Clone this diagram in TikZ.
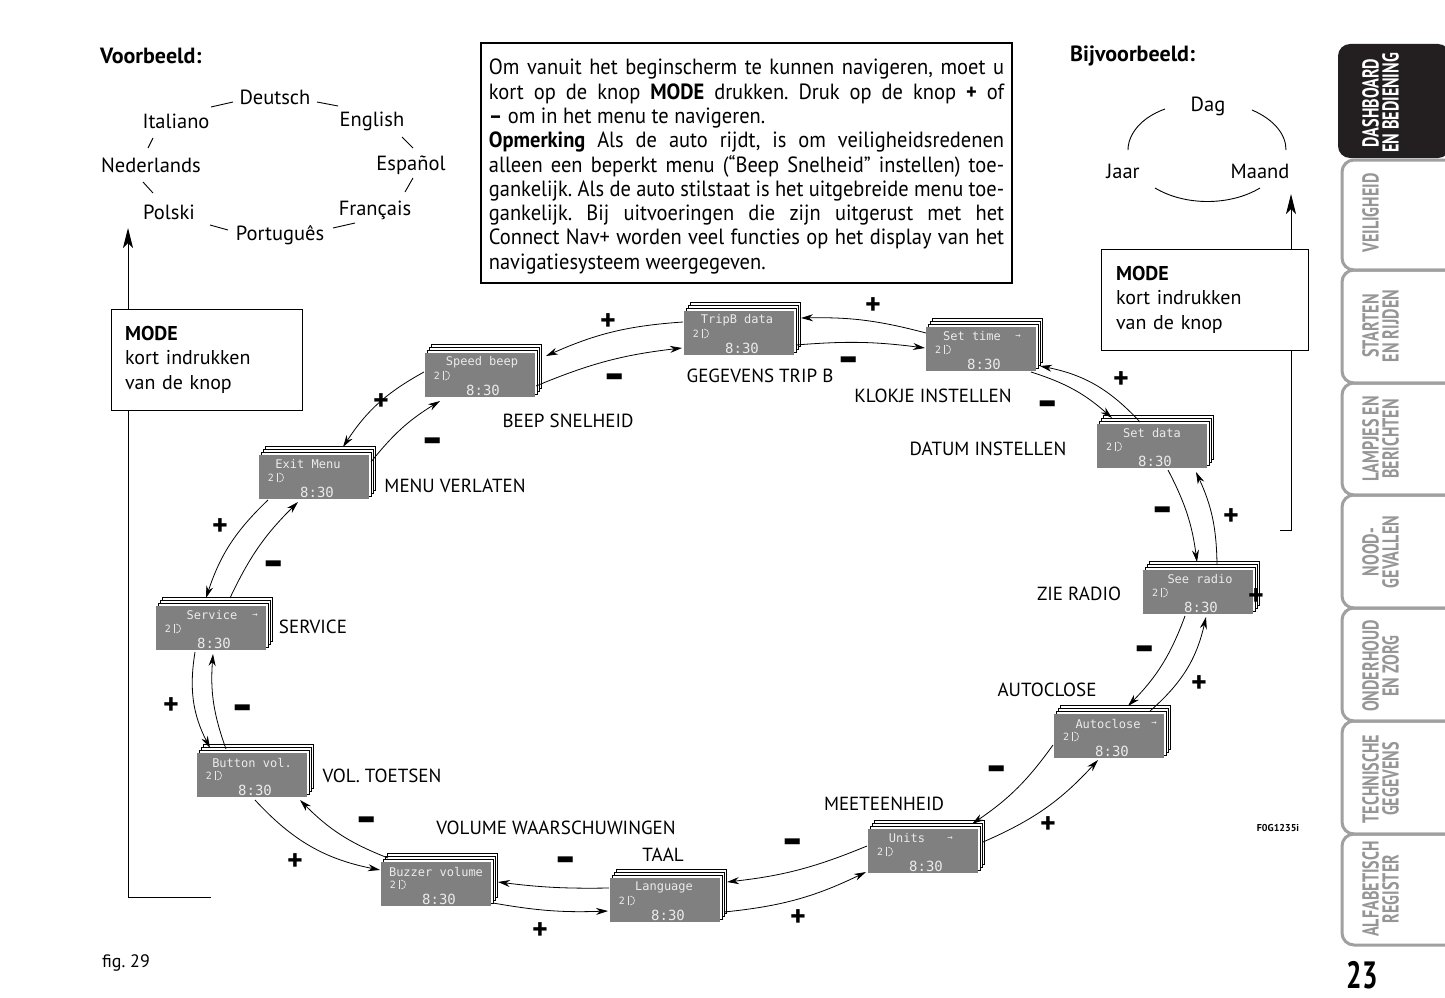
\documentclass[tikz,border=0pt]{standalone}
\usepackage{fontspec}
\usepackage{graphicx}
\setmainfont{PT Sans}
\setmonofont{DejaVu Sans Mono}
\usetikzlibrary{arrows.meta,calc}
\definecolor{tabgray}{RGB}{160,160,160}
\definecolor{tabtext}{RGB}{150,150,150}
\definecolor{lcd}{RGB}{128,128,128}
\definecolor{lcdtext}{RGB}{235,235,235}
\definecolor{tabblack}{RGB}{35,31,32}
\frenchspacing
\newcommand\jl[1]{\makebox[\linewidth][s]{#1}\\}
\newcommand\dispbox[5]{%
  \foreach \k in {3,2,1}{\draw[sheet] ({#2-55+2*\k},{#3-22-3*\k}) rectangle ({#2+55+2*\k},{#3+22-3*\k});}
  \node[display] (#1) at (#2,#3) {};
  \node[dtext] at ({#2+#5},{#3-12.5}) {#4};
  \node[dtext, font=\ttfamily\fontsize{10}{10}\selectfont] at ({#2-43},{#3+1}) {2};
  \draw[lcdtext, line width=0.6pt] ({#2-37},{#3-4}) -- ({#2-37},{#3+5});
  \draw[lcdtext, line width=0.6pt] ({#2-35},{#3-4}) .. controls ({#2-29},{#3-4}) and ({#2-29},{#3+5}) .. ({#2-35},{#3+5});
  \node[dtext, font=\ttfamily\fontsize{14}{14}\selectfont] at ({#2+3},{#3+15}) {8:30};
}
\newcommand\dispboxA[6]{%
  \dispbox{#1}{#2}{#3}{#4}{#5}
  \node[dtext, font=\ttfamily\fontsize{9}{9}\selectfont] at ({#2+#6},{#3-12.5}) {→};
}
\begin{document}
\begin{tikzpicture}[x=1pt,y=-1pt,
  lbl/.style={font=\fontsize{19}{22}\selectfont, inner sep=0pt},
  lang/.style={font=\fontsize{20.5}{24}\selectfont, inner sep=0pt},
  pmsign/.style={font=\fontsize{30}{30}\selectfont\bfseries, inner sep=0pt},
  display/.style={rectangle, fill=lcd, minimum width=110pt, minimum height=44pt, inner sep=0pt},
  sheet/.style={fill=white, draw=black, line width=0.6pt},
  dtext/.style={text=lcdtext, font=\ttfamily\fontsize{12}{12}\selectfont, inner sep=0pt},
  conn/.style={-{Stealth[length=12pt,width=7pt]}, line width=0.8pt},
  outarc/.style={conn, bend right=#1},
  inarc/.style={conn, bend left=#1},
  modebox/.style={draw, line width=1pt, fill=white, align=left, inner xsep=14pt, font=\fontsize{20}{24.5}\selectfont},
  bigarrow/.style={line width=1pt, -{Stealth[length=20pt,width=10pt,inset=5pt]}},
  tabline/.style={draw=tabgray, line width=3pt, rounded corners=12pt},
  tabtxt/.style={rotate=90, anchor=north, inner sep=0pt, align=center, text=tabtext, font=\fontsize{23}{20}\selectfont\bfseries},
]
\fill[white] (0,0) rectangle (1445,998);
\useasboundingbox (0,0) rectangle (1445,998);

% ---------- side tabs ----------
\foreach \t/\b in {160/270,270/383,383/495,495/608,608/721,721/834,834/945}{
  \draw[tabline] (1450,\t) -- (1342,\t) -- (1342,\b) -- (1450,\b);
}
\fill[tabblack, rounded corners=12pt] (1450,44) -- (1338,44) -- (1338,158) -- (1450,158) -- cycle;
\node[tabtxt, text=white] (tab1) at (1362,103) {\scalebox{0.7}[1]{DASHBOARD}\\\scalebox{0.7}[1]{EN BEDIENING}};
\node[tabtxt] (tab2) at (1362,213) {\scalebox{0.7}[1]{VEILIGHEID}};
\node[tabtxt] (tab3) at (1362,326) {\scalebox{0.7}[1]{STARTEN}\\\scalebox{0.7}[1]{EN RIJDEN}};
\node[tabtxt] (tab4) at (1362,439) {\scalebox{0.7}[1]{LAMPJES EN}\\\scalebox{0.7}[1]{BERICHTEN}};
\node[tabtxt] (tab5) at (1362,552) {\scalebox{0.7}[1]{NOOD-}\\\scalebox{0.7}[1]{GEVALLEN}};
\node[tabtxt] (tab6) at (1362,666) {\scalebox{0.7}[1]{ONDERHOUD}\\\scalebox{0.7}[1]{EN ZORG}};
\node[tabtxt] (tab7) at (1362,779) {\scalebox{0.7}[1]{TECHNISCHE}\\\scalebox{0.7}[1]{GEGEVENS}};
\node[tabtxt] (tab8) at (1362,889) {\scalebox{0.7}[1]{ALFABETISCH}\\\scalebox{0.7}[1]{REGISTER}};
\node[inner sep=0pt, font=\fontsize{38}{38}\selectfont\bfseries] (pagenum) at (1362,975) {\scalebox{0.72}[1]{23}};

% ---------- captions ----------
\node[anchor=west, inner sep=0pt, font=\fontsize{22}{26}\selectfont\bfseries] (vb) at (100,56) {Voorbeeld:};
\node[anchor=west, inner sep=0pt, font=\fontsize{22}{26}\selectfont\bfseries] (bvb) at (1070,56) {Bijvoorbeeld:};
\node[anchor=west, inner sep=0pt, font=\fontsize{18}{22}\selectfont] (fig) at (102,963) {fig. 29};
\node[inner sep=0pt, font=\fontsize{10}{12}\selectfont\bfseries] (code) at (1278,828) {F0G1235i};

% ---------- info box ----------
\node[draw, line width=1.2pt, minimum width=531pt, minimum height=240pt, inner sep=0pt] (info) at (746.5,163) {};
\node[inner sep=0pt, anchor=north] (infotext) at (746.5,59)
{\scalebox{0.93}[1]{\parbox{554pt}{\fontsize{22}{24.3}\selectfont\frenchspacing
\jl{Om vanuit het beginscherm te kunnen navigeren, moet u}
\jl{kort op de knop \textbf{MODE} drukken. Druk op de knop \textbf{+} of}
\textbf{–} om in het menu te navigeren.\\
\jl{\textbf{Opmerking} Als de auto rijdt, is om veiligheidsredenen}
\jl{alleen een beperkt menu (“Beep Snelheid” instellen) toe-}
\jl{gankelijk. Als de auto stilstaat is het uitgebreide menu toe-}
\jl{gankelijk. Bij uitvoeringen die zijn uitgerust met het}
\jl{Connect Nav+ worden veel functies op het display van het}
navigatiesysteem weergegeven.}}};

% ---------- language cycle ----------
\node[lang] (de) at (275,97) {Deutsch};
\node[lang] (it) at (176,121) {Italiano};
\node[lang] (en) at (372,121) {English};
\node[lang] (nl) at (151,165) {Nederlands};
\node[lang] (es) at (411,165) {Español};
\node[lang] (pl) at (169,212) {Polski};
\node[lang] (fr) at (375,210) {Français};
\node[lang] (pt) at (280,235) {Português};
\begin{scope}[line width=0.9pt]
\draw (211,107) -- (233,102);
\draw (317,102) -- (338,106);
\draw (153,138) -- (148,148);
\draw (402,137) -- (413,148);
\draw (143,182) -- (153,193);
\draw (413,178) -- (405,192);
\draw (210,225) -- (228,230);
\draw (333,228) -- (355,223);
\end{scope}

% ---------- date cycle ----------
\node[lang] (dag) at (1208,106) {Dag};
\node[lang] (jaar) at (1123,171) {Jaar};
\node[lang] (maand) at (1260,171) {Maand};
\begin{scope}[line width=0.9pt]
\draw (1165,109) .. controls (1140,118) and (1128,135) .. (1128,150);
\draw (1252,110) .. controls (1275,120) and (1286,135) .. (1286,150);
\draw (1155,188) .. controls (1185,206) and (1230,206) .. (1260,188);
\end{scope}

% ---------- MODE boxes and long arrows ----------
\node[modebox, minimum width=191pt, minimum height=101pt, text width=163pt] (modeL) at (206.5,359.5) {\textbf{MODE}\\kort indrukken\\van de knop};
\node[modebox, inner xsep=15pt, minimum width=207pt, minimum height=101pt, text width=177pt] (modeR) at (1204.5,299.5) {\textbf{MODE}\\kort indrukken\\van de knop};
\coordinate (lstub) at (211,897);
\coordinate (lcorner) at (128,897);
\coordinate (ltip) at (128,228);
\coordinate (rstub) at (1280,530);
\coordinate (rcorner) at (1291,530);
\coordinate (rtip) at (1291,194);
\draw[line width=1pt] (lstub) -- (lcorner) -- (lcorner |- modeL.south);
\draw[bigarrow] (lcorner |- modeL.north) -- (ltip);
\draw[line width=1pt] (rstub) -- (rcorner) -- (rcorner |- modeR.south);
\draw[bigarrow] (rcorner |- modeR.north) -- (rtip);

% ---------- displays ----------
\dispbox{tripb}{739}{333}{TripB data}{-2}
\dispboxA{settime}{981}{349}{Set time}{-9}{37}
\dispbox{speed}{480}{375}{Speed beep}{2}
\dispbox{setdata}{1152}{446}{Set data}{0}
\dispbox{exitm}{314}{477}{Exit Menu}{-6}
\dispbox{seeradio}{1198}{592}{See radio}{2}
\dispboxA{service}{211}{628}{Service}{1}{44}
\dispboxA{autoclose}{1109}{736}{Autoclose}{-1}{45}
\dispbox{button}{252}{775}{Button vol.}{0}
\dispboxA{units}{923}{851}{Units}{-16}{27}
\dispbox{buzzer}{436}{884}{Buzzer volume}{0}
\dispbox{language}{665}{900}{Language}{-1}

% ---------- connectors ----------
\draw[outarc=10] ($(tripb)+(-56,-11)$) to ($(speed)+(66,-19)$);
\draw[inarc=8] ($(speed)+(56,11)$) to ($(tripb)+(-57,15)$);
\draw[outarc=8] ($(settime)+(-55,-16)$) to ($(tripb)+(62,-15)$);
\draw[inarc=6] ($(tripb)+(57,12)$) to ($(settime)+(-56,-1)$);
\draw[outarc=18] ($(setdata)+(-12,-24)$) to ($(settime)+(59,17)$);
\draw[inarc=12] ($(settime)+(50,23)$) to ($(setdata)+(-40,-28)$);
\draw[outarc=12] ($(seeradio)+(19,-27)$) to ($(setdata)+(44,26)$);
\draw[inarc=10] ($(setdata)+(16,24)$) to ($(seeradio)+(-1,-30)$);
\draw[outarc=18] ($(autoclose)+(41,-25)$) to ($(seeradio)+(8,25)$);
\draw[inarc=12] ($(seeradio)+(-13,24)$) to ($(autoclose)+(19,-30)$);
\draw[outarc=12] ($(units)+(60,-9)$) to ($(autoclose)+(-11,24)$);
\draw[inarc=10] ($(autoclose)+(-56,9)$) to ($(units)+(49,-27)$);
\draw[outarc=10] ($(language)+(59,12)$) to ($(units)+(-57,21)$);
\draw[inarc=8] ($(units)+(-56,-5)$) to ($(language)+(62,-18)$);
\draw[outarc=6] ($(buzzer)+(57,19)$) to ($(language)+(-57,11)$);
\draw[inarc=4] ($(language)+(-56,-12)$) to ($(buzzer)+(62,-2)$);
\draw[outarc=18] ($(button)+(3,25)$) to ($(buzzer)+(-56,-14)$);
\draw[inarc=12] ($(buzzer)+(-48,-26)$) to ($(button)+(48,25)$);
\draw[outarc=18] ($(service)+(-16,24)$) to ($(button)+(-42,-27)$);
\draw[inarc=12] ($(button)+(-26,-26)$) to ($(service)+(2,26)$);
\draw[outarc=14] ($(exitm)+(-46,23)$) to ($(service)+(-5,-30)$);
\draw[inarc=10] ($(service)+(19,-30)$) to ($(exitm)+(-16,25)$);
\draw[outarc=14] ($(speed)+(-56,-3)$) to ($(exitm)+(29,-30)$);
\draw[inarc=10] ($(exitm)+(57,-15)$) to ($(speed)+(-40,26)$);

% ---------- labels ----------
\node[lbl] (l1) at (760,376) {GEGEVENS TRIP B};
\node[lbl] (l2) at (933,396) {KLOKJE INSTELLEN};
\node[lbl] (l3) at (988,449) {DATUM INSTELLEN};
\node[lbl] (l4) at (568,421) {BEEP SNELHEID};
\node[lbl] (l5) at (455,486) {MENU VERLATEN};
\node[lbl] (l6) at (313,627) {SERVICE};
\node[lbl] (l7) at (1079,594) {ZIE RADIO};
\node[lbl] (l8) at (1047,690) {AUTOCLOSE};
\node[lbl] (l9) at (382,776) {VOL. TOETSEN};
\node[lbl] (l10) at (884,804) {MEETEENHEID};
\node[lbl] (l11) at (556,828) {VOLUME WAARSCHUWINGEN};
\node[lbl] (l12) at (663,855) {TAAL};

% ---------- plus / minus ----------
\foreach \x/\y [count=\i] in {608/322,873/306,1121/380,1231/517,1256/597,1199/684,1048/825,798/918,540/931,295/862,171/706,220/527,381/402}
  \node[pmsign] (plus\i) at (\x,\y) {+};
\foreach \x/\y [count=\i] in {615/383,849/366,1048/410,1163/516,1145/655,997/775,793/848,566/866,367/826,243/714,274/570,433/447}
  \node[pmsign, font=\fontsize{34}{34}\selectfont\bfseries] (minus\i) at (\x,\y) {\scalebox{1}[1.5]{–}};
\end{tikzpicture}
\end{document}
